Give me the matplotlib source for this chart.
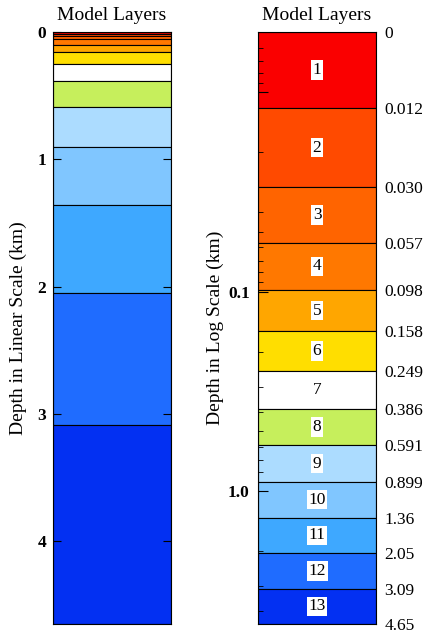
import numpy as np
import matplotlib
matplotlib.use("Agg")
import matplotlib.pyplot as plt
from matplotlib.ticker import LogLocator, NullFormatter

plt.rcParams['font.family'] = ['Liberation Serif', 'DejaVu Serif']

# layer boundaries (km) and layer colours
bounds = [0, 0.012, 0.030, 0.057, 0.098, 0.158, 0.249, 0.386,
          0.591, 0.899, 1.36, 2.05, 3.09, 4.65]
bound_labels = ["0", "0.012", "0.030", "0.057", "0.098", "0.158", "0.249",
                "0.386", "0.591", "0.899", "1.36", "2.05", "3.09", "4.65"]
layer_ids = list(range(1, 14))
colors = ["#fa0000", "#ff4a00", "#ff6400", "#ff7800", "#ffa600", "#ffde00",
          "#ffffff", "#c6ef5c", "#acdcff", "#80c6ff", "#3ea8ff", "#1f6cff",
          "#0330f2"]

tops = np.array(bounds[:-1])
bots = np.array(bounds[1:])
log_top = 0.005  # where "0" sits on the log panel

fig = plt.figure(figsize=(4.25, 6.35), dpi=100)
ax1 = fig.add_axes([0.1247, 0.0173, 0.278, 0.932])
ax2 = fig.add_axes([0.607, 0.0173, 0.278, 0.932])

# linear panel
ax1.bar(0.5, bots - tops, bottom=tops, width=1, color=colors,
        edgecolor="black", linewidth=0.8)
ax1.set_xlim(0, 1)
ax1.set_ylim(bounds[-1], 0)
ax1.set_xticks([])
ax1.set_yticks([0, 1, 2, 3, 4])
ax1.set_yticklabels(["0", "1", "2", "3", "4"], fontweight="bold", fontsize=12.5)
ax1.tick_params(axis="y", direction="in", left=True, right=True, length=6,
                width=0.8, pad=5)
ax1.set_ylabel("Depth in Linear Scale (km)", fontsize=14)
ax1.yaxis.set_label_coords(-0.22, 0.5)
ax1.set_title("Model Layers", fontsize=14, pad=9)

# log panel
ltops = np.maximum(tops, log_top)
ax2.bar(0.5, bots - ltops, bottom=ltops, width=1, color=colors,
        edgecolor="black", linewidth=0.8)
ax2.set_yscale("log")
ax2.set_xlim(0, 1)
ax2.set_ylim(bounds[-1], log_top)
ax2.set_xticks([])
ax2.yaxis.set_minor_locator(LogLocator(base=10, subs=np.arange(2, 10), numticks=20))
ax2.yaxis.set_minor_formatter(NullFormatter())
ax2.set_yticks([0.01, 0.1, 1.0])
ax2.set_yticklabels(["", "0.1", "1.0"], fontweight="bold", fontsize=12.5)
ax2.tick_params(axis="y", which="major", direction="in", left=True, right=True,
                length=7, width=0.8, pad=6)
ax2.tick_params(axis="y", which="minor", direction="in", left=True, right=True,
                length=3.5, width=0.6)
ax2.set_ylabel("Depth in Log Scale (km)", fontsize=14)
ax2.yaxis.set_label_coords(-0.29, 0.5)
ax2.set_title("Model Layers", fontsize=14, pad=9)

for lid, t, b in zip(layer_ids, ltops, bots):
    ax2.text(0.5, np.sqrt(t * b), str(lid), ha="center", va="center",
             fontsize=12.5, bbox=dict(facecolor="white", edgecolor="none", pad=1.2))

# boundary labels on the right
ax3 = ax2.twinx()
ax3.set_yscale("log")
ax3.set_ylim(bounds[-1], log_top)
ax3.set_yticks(np.maximum(bounds, log_top))
ax3.set_yticklabels(bound_labels, fontsize=12.5)
ax3.yaxis.set_minor_formatter(NullFormatter())
ax3.tick_params(axis="y", which="both", length=0, pad=6)
for s in ax3.spines.values():
    s.set_visible(False)

fig.savefig("out.png", dpi=100)
